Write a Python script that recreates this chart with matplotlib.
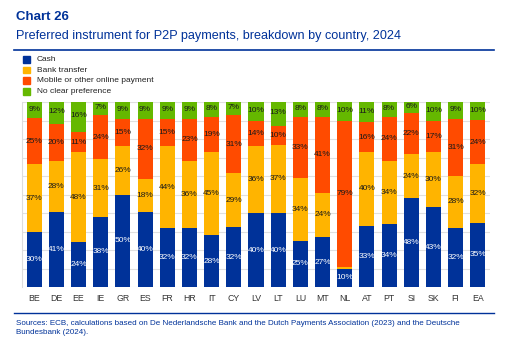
import numpy as np
import matplotlib.pyplot as plt

plt.rcParams['font.family'] = ['Liberation Sans', 'DejaVu Sans']

countries = ['BE', 'DE', 'EE', 'IE', 'GR', 'ES', 'FR', 'HR', 'IT', 'CY', 'LV',
             'LT', 'LU', 'MT', 'NL', 'AT', 'PT', 'SI', 'SK', 'FI', 'EA']
cash = [30, 41, 24, 38, 50, 40, 32, 32, 28, 32, 40, 40, 25, 27, 10, 33, 34, 48, 43, 32, 35]
bank = [37, 28, 48, 31, 26, 18, 44, 36, 45, 29, 36, 37, 34, 24, 1, 40, 34, 24, 30, 28, 32]
mobile = [25, 20, 11, 24, 15, 32, 15, 23, 19, 31, 14, 10, 33, 41, 79, 16, 24, 22, 17, 31, 24]
nopref = [9, 12, 16, 7, 9, 9, 9, 9, 8, 7, 10, 13, 8, 8, 10, 11, 8, 6, 10, 9, 10]

names = ['Cash', 'Bank transfer', 'Mobile or other online payment', 'No clear preference']
colors = ['#003299', '#FFB400', '#FF4B00', '#65B800']
txt_colors = ['white', '#1a1a1a', '#1a1a1a', '#1a1a1a']
blue = '#003299'

series = np.array([cash, bank, mobile, nopref], dtype=float)
totals = series.sum(axis=0)
shares = series / totals * 100  # stretch each bar to 100%

fig = plt.figure(figsize=(5.09, 3.46), dpi=100)
W, H = 509, 346

fig.text(16 / W, 1 - 17 / H, 'Chart 26', fontsize=9.5, fontweight='bold', color=blue, va='center')
fig.text(16 / W, 1 - 36 / H, 'Preferred instrument for P2P payments, breakdown by country, 2024',
         fontsize=9.1, color=blue, va='center')
fig.add_artist(plt.Line2D([14 / W, 494 / W], [1 - 50 / H, 1 - 50 / H], color=blue, lw=1.2))
fig.add_artist(plt.Line2D([14 / W, 494 / W], [1 - 313 / H, 1 - 313 / H], color=blue, lw=1.0))
fig.text(16 / W, 1 - 328 / H,
         'Sources: ECB, calculations based on De Nederlandsche Bank and the Dutch Payments Association (2023) and the Deutsche\nBundesbank (2024).',
         fontsize=5.8, color=blue, va='center', linespacing=1.25)

# legend
for i, (n, c) in enumerate(zip(names, colors)):
    y = 1 - (59.5 + i * 10.6) / H
    fig.patches.append(plt.Rectangle((23 / W, y - 3.2 / H), 6.5 / W, 6.5 / H, color=c,
                                     transform=fig.transFigure))
    fig.text(37 / W, y, n, fontsize=6, color='#222222', va='center')

ax = fig.add_axes([22 / W, 1 - 287 / H, 468 / W, 185 / H])
x = np.arange(len(countries))
bottom = np.zeros(len(countries))
for k in range(4):
    ax.bar(x, shares[k], 0.68, bottom=bottom, color=colors[k], zorder=2)
    for j in range(len(countries)):
        v = series[k, j]
        if v >= 3:
            yy = bottom[j] + shares[k, j] / 2
            if k == 3:
                yy = bottom[j] + shares[k, j] * 0.55
            ax.text(x[j], yy, f'{int(v)}%', ha='center', va='center', fontsize=6,
                    color=txt_colors[k], zorder=3)
    bottom += shares[k]

ax.set_xlim(-0.55, len(countries) - 0.45)
ax.set_ylim(0, 100)
ax.set_yticks(np.arange(0, 101, 10))
ax.set_yticklabels([])
ax.tick_params(axis='y', length=0)
ax.tick_params(axis='x', length=0, labelsize=6.3, colors='#333333', pad=5)
ax.set_xticks(x)
ax.set_xticklabels(countries)
ax.grid(axis='y', color='#e0e0e0', lw=0.8, zorder=0)
for s in ['top', 'right', 'bottom']:
    ax.spines[s].set_visible(False)
ax.spines['left'].set_color('#dddddd')

fig.savefig('out.png', dpi=100)
